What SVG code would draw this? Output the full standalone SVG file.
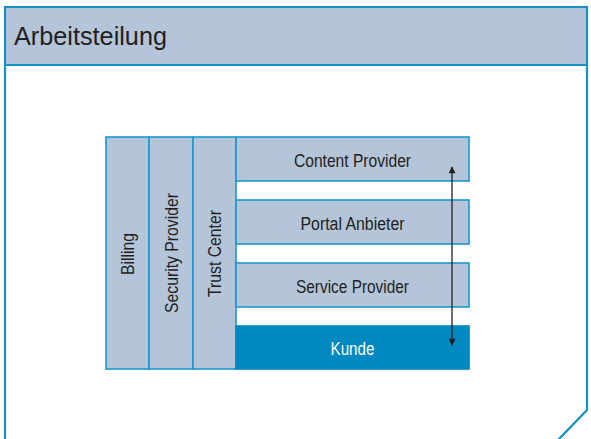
<svg xmlns="http://www.w3.org/2000/svg" width="591" height="439" viewBox="0 0 591 439">
<style>
.frame{fill:none;stroke:#1391c8;stroke-width:2.2}
.box{fill:#b5c5d9;stroke:#1a98cf;stroke-width:1.6}
.dark{fill:#0089c1;stroke:#0089c1;stroke-width:1.6}
.t{font-family:"Liberation Sans",Arial,sans-serif;font-size:18px;fill:#231f20;text-anchor:middle}
.w{fill:#ffffff}
.conn{stroke:#231f20;stroke-width:1.3;fill:none}
</style>
<defs>
<marker id="ah" viewBox="0 0 10 10" refX="9" refY="5" markerWidth="10" markerHeight="7" markerUnits="userSpaceOnUse" orient="auto-start-reverse">
<path d="M0,0 L10,5 L0,10 z" fill="#231f20"/>
</marker>
</defs>
<rect width="591" height="439" fill="#ffffff"/>
<g id="frame">
<rect x="5" y="7" width="582" height="58" fill="#b5c5d9"/>
<path class="frame" d="M5,440 L5,7 L587,7 L587,410 L558,440"/>
<line class="frame" x1="5" y1="65" x2="587" y2="65"/>
<text x="14" y="45" font-family="'Liberation Sans',Arial,sans-serif" font-size="26" fill="#231f20" textLength="153" lengthAdjust="spacingAndGlyphs">Arbeitsteilung</text>
</g>
<g id="billing">
<rect class="box" x="106" y="137" width="43" height="232"/>
<text class="t" transform="translate(134 254) rotate(-90)" textLength="42" lengthAdjust="spacingAndGlyphs">Billing</text>
</g>
<g id="security-provider">
<rect class="box" x="149" y="137" width="44" height="232"/>
<text class="t" transform="translate(177.5 253) rotate(-90)" textLength="120" lengthAdjust="spacingAndGlyphs">Security Provider</text>
</g>
<g id="trust-center">
<rect class="box" x="193" y="137" width="43" height="232"/>
<text class="t" transform="translate(221 253.5) rotate(-90)" textLength="87" lengthAdjust="spacingAndGlyphs">Trust Center</text>
</g>
<g id="content-provider">
<rect class="box" x="236" y="137" width="233" height="44"/>
<text class="t" x="352.5" y="167" textLength="117" lengthAdjust="spacingAndGlyphs">Content Provider</text>
</g>
<g id="portal-anbieter">
<rect class="box" x="236" y="200" width="233" height="44"/>
<text class="t" x="352.5" y="230" textLength="104" lengthAdjust="spacingAndGlyphs">Portal Anbieter</text>
</g>
<g id="service-provider">
<rect class="box" x="236" y="263" width="233" height="44"/>
<text class="t" x="352.5" y="293" textLength="113" lengthAdjust="spacingAndGlyphs">Service Provider</text>
</g>
<g id="kunde">
<rect class="dark" x="236" y="326" width="233" height="43"/>
<text class="t w" x="352.5" y="355" textLength="44" lengthAdjust="spacingAndGlyphs">Kunde</text>
</g>
<g id="connectors">
<line class="conn" x1="452" y1="167" x2="452" y2="345" marker-start="url(#ah)" marker-end="url(#ah)"/>
</g>
</svg>
